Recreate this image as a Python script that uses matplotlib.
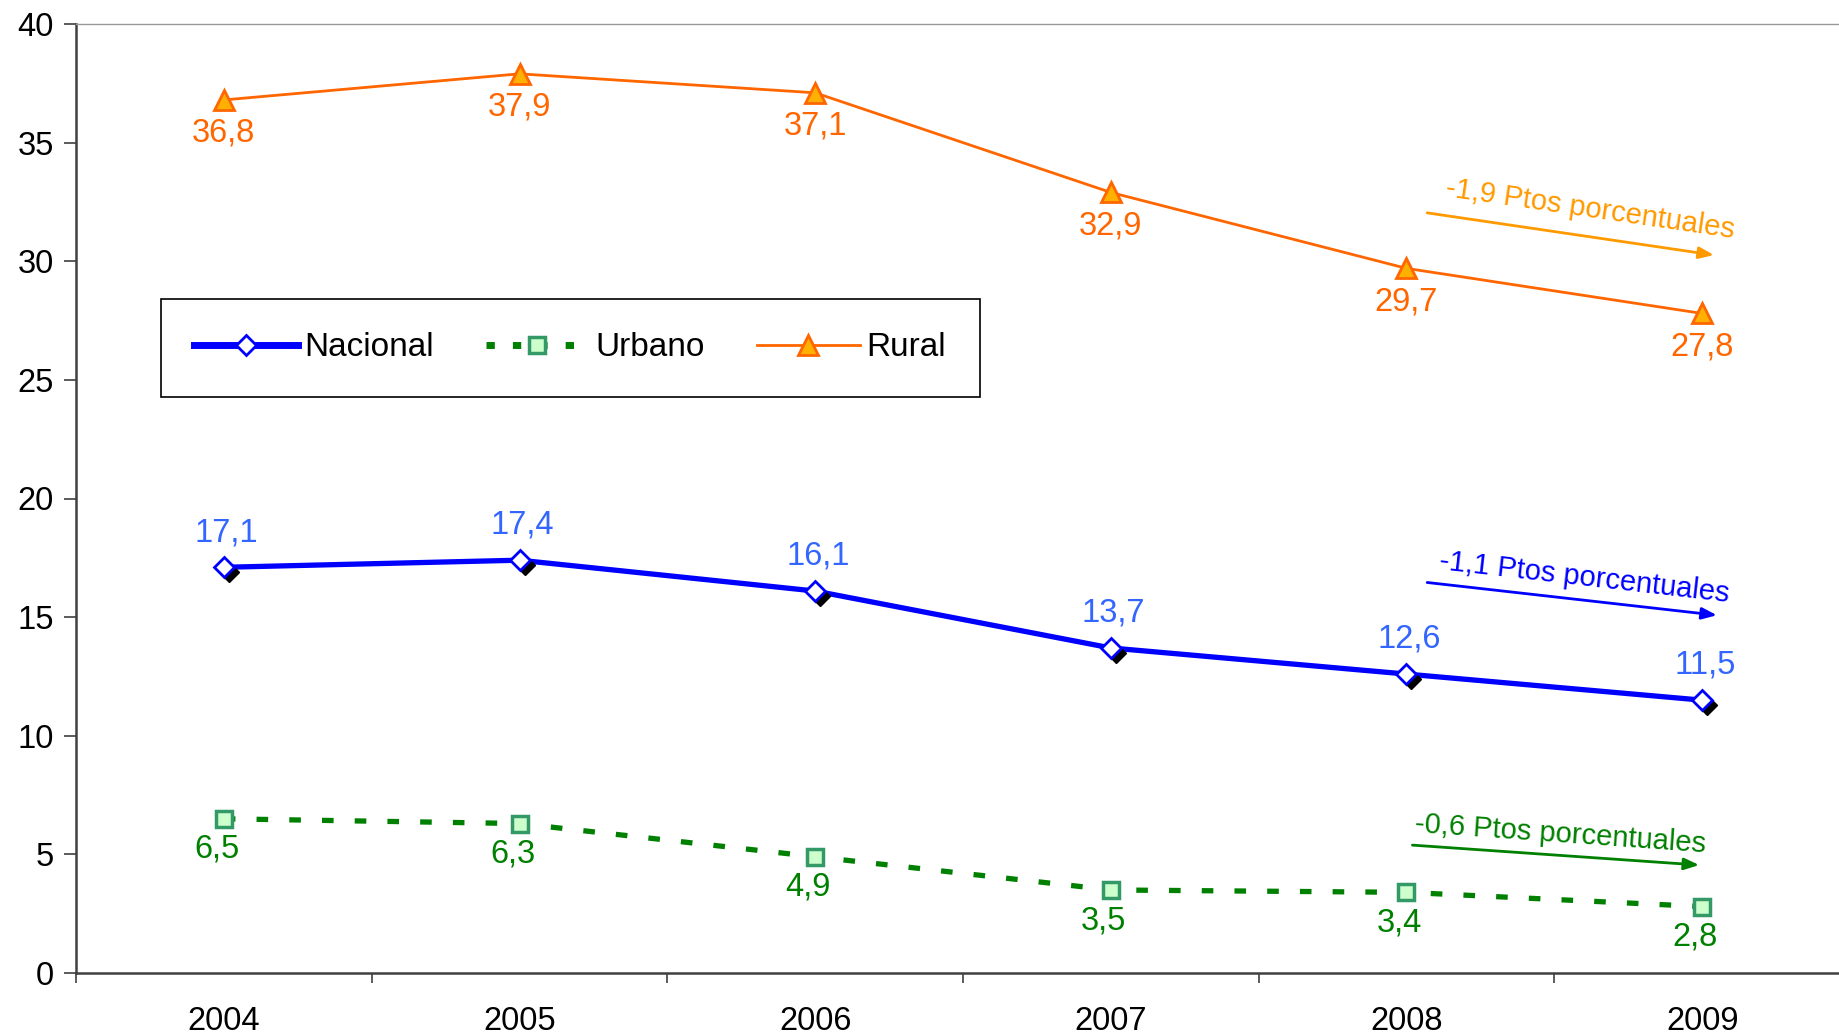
import numpy as np
import matplotlib.pyplot as plt
from matplotlib.lines import Line2D
from matplotlib.transforms import offset_copy

plt.rcParams["font.family"] = ["Liberation Sans", "DejaVu Sans"]

# ------------------------------------------------------------------
# Data
# ------------------------------------------------------------------
years = ["2004", "2005", "2006", "2007", "2008", "2009"]
nacional = [17.1, 17.4, 16.1, 13.7, 12.6, 11.5]
urbano = [6.5, 6.3, 4.9, 3.5, 3.4, 2.8]
rural = [36.8, 37.9, 37.1, 32.9, 29.7, 27.8]

series_names = ["Nacional", "Urbano", "Rural"]
change_labels = ["-1,1 Ptos porcentuales", "-0,6 Ptos porcentuales",
                 "-1,9 Ptos porcentuales"]


def fmt(v):
    return f"{v:.1f}".replace(".", ",")


# ------------------------------------------------------------------
# Figure
# ------------------------------------------------------------------
fig = plt.figure(figsize=(18.4, 10.36), dpi=100)
ax = fig.add_axes([76 / 1840, 1 - 973 / 1036, 1774 / 1840, 949 / 1036])

x = np.arange(len(years))

blue = "#0000ff"
blue_lbl = "#3366ff"
green = "#008000"
orange = "#ff6600"
orange_arrow = "#ff9900"

# Rural
ax.plot(x, rural, color=orange, lw=2, zorder=3)
ax.plot(x, rural, ls="none", marker="^", ms=14, mfc="#ffb000",
        mec=orange, mew=2, zorder=4)

# Urbano
ax.plot(x, urbano, color=green, lw=3.8, dashes=(2.2, 4.0), zorder=3)
ax.plot(x, urbano, ls="none", marker="s", ms=12, mfc="#ccffcc",
        mec="#339966", mew=2.5, zorder=4)

# Nacional (line, black shadow, white diamonds)
ax.plot(x, nacional, color=blue, lw=3.8, zorder=3)
shadow = offset_copy(ax.transData, fig=fig, x=5, y=-5, units="dots")
ax.plot(x, nacional, ls="none", marker="D", ms=10, mfc="black",
        mec="black", transform=shadow, zorder=4)
ax.plot(x, nacional, ls="none", marker="D", ms=10, mfc="white",
        mec=blue, mew=2, zorder=5)

# Data labels
for xi, v in zip(x, rural):
    ax.annotate(fmt(v), (xi, v), xytext=(0, -24), textcoords="offset points",
                ha="center", va="center", fontsize=23.5, color=orange)
for xi, v in zip(x, nacional):
    ax.annotate(fmt(v), (xi, v), xytext=(2, 25), textcoords="offset points",
                ha="center", va="center", fontsize=23.5, color=blue_lbl)
for xi, v in zip(x, urbano):
    ax.annotate(fmt(v), (xi, v), xytext=(-5, -22), textcoords="offset points",
                ha="center", va="center", fontsize=23.5, color=green)

# Change arrows
arrow_specs = [
    (change_labels[2], orange_arrow, (4.07, 32.04), (5.04, 30.26), (4.62, 32.2), -8.3),
    (change_labels[0], blue, (4.07, 16.46), (5.05, 15.08), (4.60, 16.65), -6.5),
    (change_labels[1], green, (4.02, 5.39), (4.99, 4.55), (4.52, 5.85), -4.0),
]
for text, col, start, end, tpos, rot in arrow_specs:
    ax.annotate("", xy=end, xytext=start,
                arrowprops=dict(arrowstyle="-|>,head_length=0.9,head_width=0.35",
                                color=col, lw=2, shrinkA=0, shrinkB=0),
                zorder=6)
    ax.text(tpos[0], tpos[1], text, color=col, fontsize=21, rotation=rot,
            ha="center", va="center", rotation_mode="anchor")

# ------------------------------------------------------------------
# Axes styling
# ------------------------------------------------------------------
ax.set_xlim(-0.5, len(years) - 0.5)
ax.set_ylim(0, 40)
ax.set_yticks(np.arange(0, 41, 5))
ax.tick_params(axis="y", labelsize=23.5, length=9, width=1.2, color="#404040", pad=7)

ax.set_xticks(x)
ax.set_xticklabels(years)
ax.set_xticks(np.arange(-0.5, len(years)), minor=True)
ax.tick_params(axis="x", which="major", length=0, labelsize=23.5, pad=24)
ax.tick_params(axis="x", which="minor", length=7, width=1.2, color="#404040")

for side in ["left", "bottom"]:
    ax.spines[side].set_color("#404040")
    ax.spines[side].set_linewidth(1.8)
ax.spines["top"].set_color("#999999")
ax.spines["top"].set_linewidth(1.0)
ax.spines["right"].set_visible(False)

# Legend
handles = [
    Line2D([], [], color=blue, lw=5, marker="D", ms=10, mfc="white", mec=blue, mew=2),
    Line2D([], [], color=green, lw=5, dashes=(1.2, 2.6), marker="s", ms=12,
           mfc="#ccffcc", mec="#339966", mew=2.5),
    Line2D([], [], color=orange, lw=2, marker="^", ms=14, mfc="#ffb000",
           mec=orange, mew=2),
]
leg = fig.legend(handles, series_names, loc="upper left",
                 bbox_to_anchor=(161 / 1840, 1 - 299 / 1036), ncol=3,
                 fontsize=24, handlelength=3.1, handletextpad=0.2,
                 columnspacing=1.55, borderpad=1.0, fancybox=False,
                 framealpha=1, edgecolor="black", borderaxespad=0)
leg.get_frame().set_linewidth(1.2)

fig.savefig("out.png", dpi=100)
